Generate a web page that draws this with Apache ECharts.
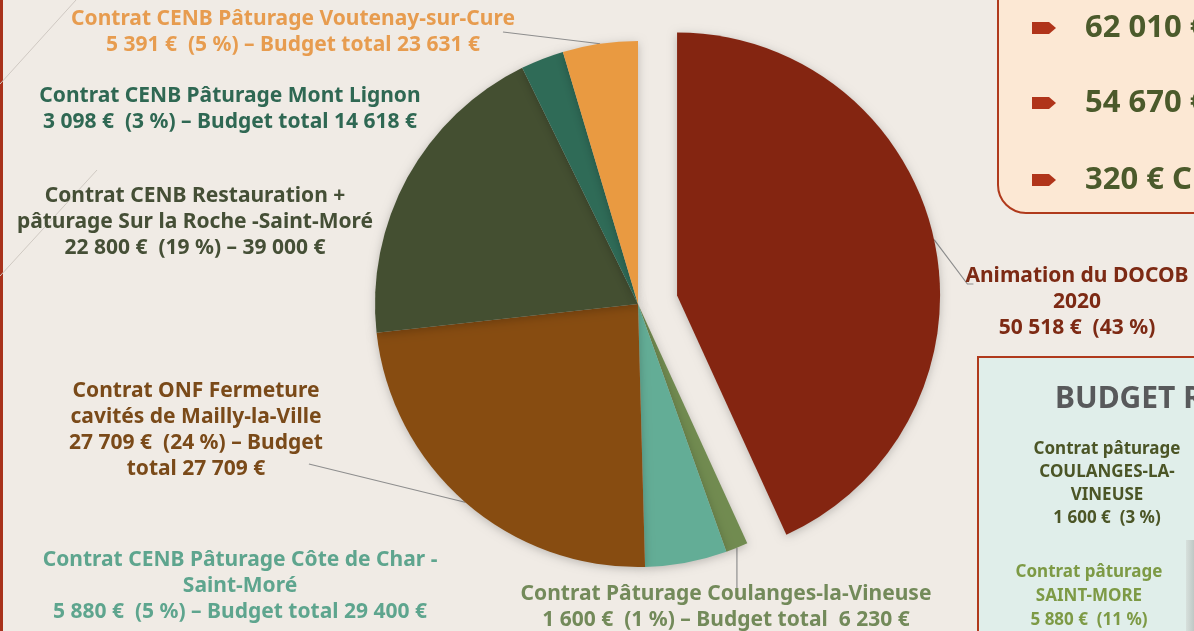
<!DOCTYPE html>
<html>
<head>
<meta charset="utf-8">
<script src="https://cdn.jsdelivr.net/npm/echarts@6/dist/echarts.min.js"></script>
<style>
html,body{margin:0;padding:0;background:#f0ebe5;overflow:hidden;}
#chart{width:1194px;height:631px;}
</style>
</head>
<body>
<div id="chart"></div>
<script>
// ---- data ----
const categories = [
  'Animation du DOCOB 2020',
  'Contrat Pâturage Coulanges-la-Vineuse',
  'Contrat CENB Pâturage Côte de Char - Saint-Moré',
  'Contrat ONF Fermeture cavités de Mailly-la-Ville',
  'Contrat CENB Restauration + pâturage Sur la Roche -Saint-Moré',
  'Contrat CENB Pâturage Mont Lignon',
  'Contrat CENB Pâturage Voutenay-sur-Cure'
];
const values = [50518, 1600, 5880, 27709, 22800, 3098, 5391];
const labelTexts = [
  'Animation du DOCOB\n2020\n50 518 €  (43 %)',
  'Contrat Pâturage Coulanges-la-Vineuse\n1 600 €  (1 %) – Budget total  6 230 €',
  'Contrat CENB Pâturage Côte de Char -\nSaint-Moré\n5 880 €  (5 %) – Budget total 29 400 €',
  'Contrat ONF Fermeture\ncavités de Mailly-la-Ville\n27 709 €  (24 %) – Budget\ntotal 27 709 €',
  'Contrat CENB Restauration +\npâturage Sur la Roche -Saint-Moré\n22 800 €  (19 %) – 39 000 €',
  'Contrat CENB Pâturage Mont Lignon\n3 098 €  (3 %) – Budget total 14 618 €',
  'Contrat CENB Pâturage Voutenay-sur-Cure\n5 391 €  (5 %) – Budget total 23 631 €'
];
const explodedIndex = 0;
const summaryLines = ['62 010 €', '54 670 €', '320 € C'];
const boxTitle = 'BUDGET R';
const boxBlock1 = 'Contrat pâturage\nCOULANGES-LA-\nVINEUSE\n1 600 €  (3 %)';
const boxBlock2 = 'Contrat pâturage\nSAINT-MORE\n5 880 €  (11 %)';

// ---- styles / layout ----
const pieColors = ['#842511', '#718b50', '#63ad96', '#874c11', '#444f31', '#2f6b57', '#e99a41'];
const labelColors = ['#7d2a14', '#738a5a', '#5ea58e', '#7a4a19', '#454f36', '#2f6853', '#e79c4f'];
const showLine = [true, true, false, true, false, false, true];
const labelSpots = [
  {x: 1077, y: 302, anchor: 'leftTop'},
  {x: 726, y: 607, anchor: 'top'},
  {x: 240, y: 586},
  {x: 196, y: 430, anchor: 'rightBottom'},
  {x: 195, y: 222},
  {x: 230, y: 109},
  {x: 293, y: 32, anchor: 'right'}
];
const FONT = 'Noto Sans';
const CENTER = [638, 304];
const RADIUS = 263;
const EXPLODE = 40;

// explosion offset along the exploded slice's mid angle
const total = values.reduce((a, b) => a + b, 0);
let before = 0;
for (let i = 0; i < explodedIndex; i++) before += values[i];
const midAngle = (before + values[explodedIndex] / 2) / total * 2 * Math.PI;
const explodedCenter = [CENTER[0] + EXPLODE * Math.sin(midAngle), CENTER[1] - EXPLODE * Math.cos(midAngle)];

function makeData(visibleFn) {
  return categories.map((name, i) => {
    const vis = visibleFn(i);
    return {
      name: name,
      value: values[i],
      itemStyle: vis ? {color: pieColors[i]} : {color: 'rgba(0,0,0,0)', shadowBlur: 0, shadowColor: 'rgba(0,0,0,0)'},
      label: {show: vis, color: labelColors[i]},
      labelLine: {show: vis && showLine[i]}
    };
  });
}

function layoutLabel(p) {
  const s = labelSpots[p.dataIndex];
  const w = p.labelRect.width, h = p.labelRect.height;
  const out = {x: s.x, y: s.y, align: 'center', verticalAlign: 'middle'};
  if (s.anchor && p.labelLinePoints) {
    const start = p.labelLinePoints[0];
    let pts;
    if (s.anchor === 'right') pts = [start, [s.x + w / 2 - 12, s.y]];
    else if (s.anchor === 'rightBottom') pts = [start, [s.x + w / 2 - 14, s.y + h / 2 - 18]];
    else if (s.anchor === 'top') pts = [start, [start[0], s.y - h / 2 + 10]];
    else pts = [start, [s.x - w / 2 + 2, s.y - h / 2 + 21], [s.x - w / 2 + 8, s.y - h / 2 + 21]];
    out.labelLinePoints = pts;
  }
  return out;
}

function pieSeries(center, visibleFn) {
  return {
    type: 'pie',
    center: center,
    radius: RADIUS,
    startAngle: 90,
    clockwise: true,
    avoidLabelOverlap: false,
    emphasis: {disabled: true},
    itemStyle: {shadowBlur: 10, shadowColor: 'rgba(0,0,0,0.22)', shadowOffsetY: 2},
    label: {
      show: true,
      position: 'outside',
      fontFamily: FONT,
      fontWeight: 'bold',
      fontSize: 21,
      lineHeight: 26,
      formatter: p => labelTexts[p.dataIndex]
    },
    labelLine: {show: true, length: 10, length2: 10, lineStyle: {color: '#8e8e8e', width: 1.2}},
    labelLayout: layoutLabel,
    data: makeData(visibleFn)
  };
}

function bullet(cy) {
  return {
    type: 'polygon',
    shape: {points: [[1032, cy - 6], [1049, cy - 6], [1056, cy], [1049, cy + 6], [1032, cy + 6]]},
    style: {fill: '#b0341a'}
  };
}

const chart = echarts.init(document.getElementById('chart'), null, {renderer: 'canvas'});

const option = {
  backgroundColor: '#f0ebe5',
  animation: false,
  graphic: [
    {type: 'rect', shape: {x: 0, y: 0, width: 3, height: 631}, style: {fill: '#a8321b'}},
    {type: 'line', shape: {x1: 0, y1: 84, x2: 76, y2: 0}, style: {stroke: '#cfc9c2', lineWidth: 1}},
    {type: 'line', shape: {x1: 0, y1: 276, x2: 97, y2: 170}, style: {stroke: '#cfc9c2', lineWidth: 1}},
    {type: 'rect', shape: {x: 998, y: -40, width: 260, height: 253, r: 28},
      style: {fill: '#fce8d4', stroke: '#b03a1c', lineWidth: 2}},
    bullet(28), bullet(103), bullet(180),
    {type: 'text', x: 1085, y: 28, style: {text: summaryLines[0], fill: '#4b5a2b', font: 'bold 31px "Noto Sans"', verticalAlign: 'middle'}},
    {type: 'text', x: 1085, y: 103, style: {text: summaryLines[1], fill: '#4b5a2b', font: 'bold 31px "Noto Sans"', verticalAlign: 'middle'}},
    {type: 'text', x: 1085, y: 180, style: {text: summaryLines[2], fill: '#4b5a2b', font: 'bold 31px "Noto Sans"', verticalAlign: 'middle'}},
    {type: 'rect', shape: {x: 978, y: 357, width: 260, height: 320},
      style: {fill: '#e0eeea', stroke: '#b03a1c', lineWidth: 2}},
    {type: 'rect', shape: {x: 1186, y: 540, width: 10, height: 95},
      style: {fill: {type: 'linear', x: 0, y: 0, x2: 1, y2: 0, colorStops: [{offset: 0, color: '#d7e0dc'}, {offset: 1, color: '#b9c2bf'}]}}},
    {type: 'text', x: 1055, y: 399, style: {text: boxTitle, fill: '#58595b', font: 'bold 30px "Noto Sans"', verticalAlign: 'middle'}},
    {type: 'text', x: 1107, y: 484, style: {text: boxBlock1, fill: '#4b5526', font: 'bold 17px "Noto Sans"', lineHeight: 23, align: 'center', verticalAlign: 'middle'}},
    {type: 'text', x: 1089, y: 596, style: {text: boxBlock2, fill: '#7d9a45', font: 'bold 17px "Noto Sans"', lineHeight: 24, align: 'center', verticalAlign: 'middle'}}
  ],
  series: [
    pieSeries(CENTER, i => i !== explodedIndex),
    pieSeries(explodedCenter, i => i === explodedIndex)
  ]
};
chart.setOption(option);
</script>
</body>
</html>
